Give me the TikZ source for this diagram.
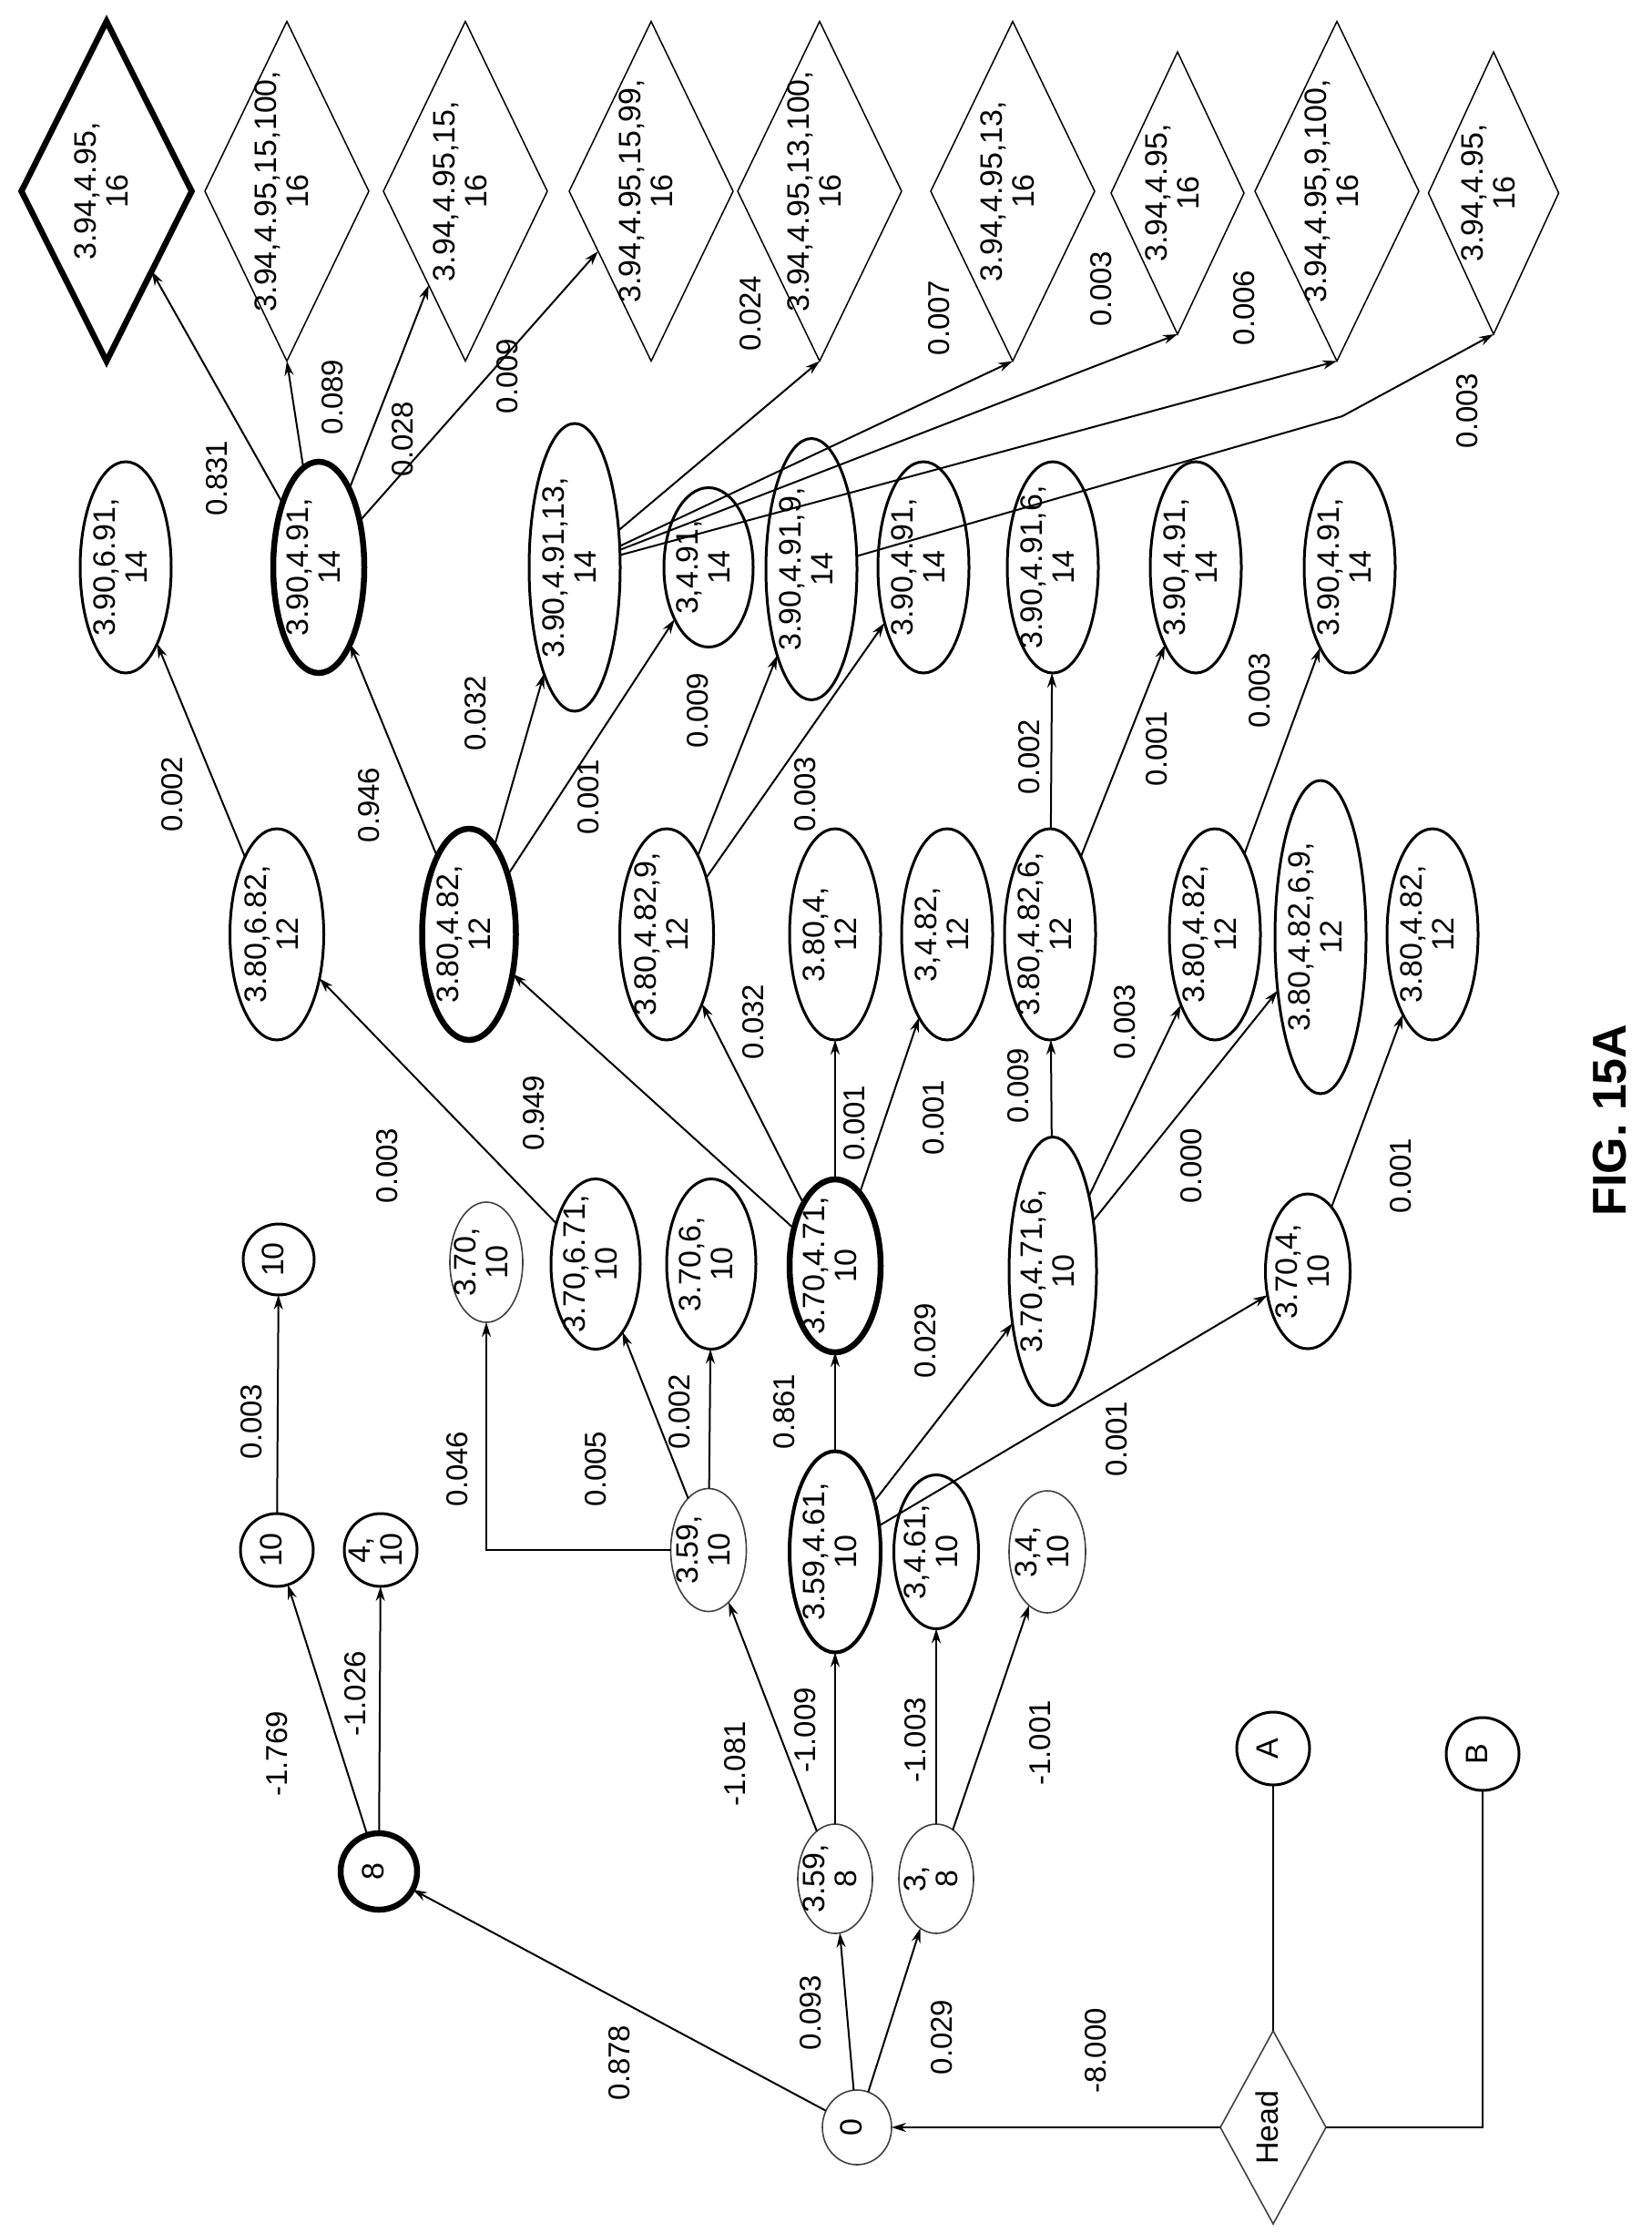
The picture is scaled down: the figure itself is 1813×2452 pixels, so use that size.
\documentclass[tikz,border=0pt]{standalone}
\usepackage{fontspec}
\setmainfont{Liberation Sans}
\usetikzlibrary{shapes.geometric,arrows.meta}
\newcommand{\lbl}[1]{\raisebox{-0.3em}{\smash{\makebox[0pt]{\begin{tabular}{@{}c@{}}#1\end{tabular}}}}}
\begin{document}
\begin{tikzpicture}[x=1pt,y=-1pt,
  base/.style={rotate=90,inner sep=0pt,outer sep=0pt,font=\fontsize{34}{35}\selectfont},
  el/.style 2 args={base,ellipse,draw,line width=3pt,minimum width=#2,minimum height=#1},
  dm/.style 2 args={base,diamond,draw,line width=1.5pt,minimum width=#2,minimum height=#1},
  thk/.style={line width=6.5pt},
  thn/.style={line width=1.6pt,draw=black!75},
  lab/.style={rotate=90,inner sep=0pt,font=\fontsize{33}{35}\selectfont},
  ed/.style={line width=2pt,-{Stealth[length=16pt,width=10pt]}},
  pl/.style={line width=2pt}]
\useasboundingbox (0,0) rectangle (1813,2452);
% row 16
\node[dm={187}{373},thk] (d1) at (117,210) {\lbl{3.94,4.95,\\16}};
\node[dm={180}{373}] (d2) at (315,210) {\lbl{3.94,4.95,15,100,\\16}};
\node[dm={180}{373}] (d3) at (511,210) {\lbl{3.94,4.95,15,\\16}};
\node[dm={180}{373}] (d4) at (715,210) {\lbl{3.94,4.95,15,99,\\16}};
\node[dm={180}{373}] (d5) at (900,210) {\lbl{3.94,4.95,13,100,\\16}};
\node[dm={180}{373}] (d6) at (1112,210) {\lbl{3.94,4.95,13,\\16}};
\node[dm={146}{310}] (d7) at (1293,212) {\lbl{3.94,4.95,\\16}};
\node[dm={180}{373}] (d8) at (1468,210) {\lbl{3.94,4.95,9,100,\\16}};
\node[dm={143}{310}] (d9) at (1640,212) {\lbl{3.94,4.95,\\16}};
% row 14
\node[el={100}{232}] (a1) at (138,623) {\lbl{3.90,6.91,\\14}};
\node[el={100}{232},thk] (a2) at (350,623) {\lbl{3.90,4.91,\\14}};
\node[el={100}{316}] (a3) at (631,623) {\lbl{3.90,4.91,13,\\14}};
\node[el={98}{175}] (a4) at (778,623) {\lbl{3,4.91,\\14}};
\node[el={100}{287}] (a5) at (891,625) {\lbl{3.90,4.91,9,\\14}};
\node[el={100}{232}] (a6) at (1014,623) {\lbl{3.90,4.91,\\14}};
\node[el={100}{232}] (a7) at (1156,623) {\lbl{3.90,4.91,6,\\14}};
\node[el={100}{232}] (a8) at (1313,623) {\lbl{3.90,4.91,\\14}};
\node[el={100}{232}] (a9) at (1482,623) {\lbl{3.90,4.91,\\14}};
% row 12
\node[el={103}{232}] (b1) at (304,1026) {\lbl{3.80,6.82,\\12}};
\node[el={103}{232},thk] (b2) at (515,1026) {\lbl{3.80,4.82,\\12}};
\node[el={103}{232}] (b3) at (732,1026) {\lbl{3.80,4.82,9,\\12}};
\node[el={100}{232}] (b4) at (917,1026) {\lbl{3.80,4,\\12}};
\node[el={100}{232}] (b5) at (1040,1026) {\lbl{3,4.82,\\12}};
\node[el={100}{232}] (b6) at (1153,1026) {\lbl{3.80,4.82,6,\\12}};
\node[el={100}{232}] (b7) at (1334,1026) {\lbl{3.80,4.82,\\12}};
\node[el={100}{344}] (b8) at (1450,1029) {\lbl{3.80,4.82,6,9,\\12}};
\node[el={100}{232}] (b9) at (1573,1026) {\lbl{3.80,4.82,\\12}};
% row 10
\node[el={78}{78}] (c1) at (306,1383) {\lbl{10}};
\node[el={80}{132},thn] (c2) at (534,1386) {\lbl{3.70,\\10}};
\node[el={98}{187}] (c3) at (654,1388) {\lbl{3.70,6.71,\\10}};
\node[el={98}{187}] (c4) at (781,1388) {\lbl{3.70,6,\\10}};
\node[el={100}{190},thk] (c5) at (917,1390) {\lbl{3.70,4.71,\\10}};
\node[el={96}{295}] (c6) at (1156,1396) {\lbl{3.70,4.71,6,\\10}};
\node[el={93}{170}] (c7) at (1436,1396) {\lbl{3.70,4,\\10}};
% row 10b
\node[el={80}{80}] (e1) at (304,1702) {\lbl{10}};
\node[el={80}{80}] (e2) at (418,1702) {\lbl{4,\\10}};
\node[el={83}{135},thn] (e3) at (778,1702) {\lbl{3.59,\\10}};
\node[el={100}{221},line width=4pt] (e4) at (917,1704) {\lbl{3.59,4.61,\\10}};
\node[el={93}{169}] (e5) at (1028,1704) {\lbl{3,4.61,\\10}};
\node[el={84}{134},thn] (e6) at (1150,1704) {\lbl{3,4,\\10}};
% row 8
\node[el={84}{84},thk] (f1) at (416,2055) {\lbl{8}};
\node[el={82}{120},thn] (f2) at (917,2063) {\lbl{3.59,\\8}};
\node[el={82}{120},thn] (f3) at (1028,2063) {\lbl{3,\\8}};
% root
\node[el={76}{82},thn] (r0) at (941,2336) {\lbl{0}};
\node[dm={116}{212},thn] (hd) at (1398,2336) {\lbl{Head}};
\node[el={80}{80}] (nA) at (1398,1920) {\lbl{A}};
\node[el={80}{80}] (nB) at (1628,1926) {\lbl{B}};
\coordinate (kB) at (1628,2336);
\coordinate (k9) at (1474,457);
\coordinate (k2) at (534,1702);
% edges
\draw[ed] (a2) -- (d1); \draw[ed] (a2) -- (d2.west); \draw[ed] (a2) -- (d3); \draw[ed] (a2) -- (d4);
\draw[ed] (a3) -- (d5.west); \draw[ed] (a3) -- (d6.west); \draw[ed] (a3) -- (d7.west); \draw[ed] (a3) -- (d8.west);
\draw[ed] (a5) -- (k9) -- (d9.west);
\draw[ed] (b1) -- (a1); \draw[ed] (b2) -- (a2); \draw[ed] (b2) -- (a3); \draw[ed] (b2) -- (a4);
\draw[ed] (b3) -- (a5); \draw[ed] (b3) -- (a6);
\draw[ed] (b6) -- (a7); \draw[ed] (b6) -- (a8); \draw[ed] (b7) -- (a9);
\draw[ed] (c3) -- (b1);
\draw[ed] (c5) -- (b2); \draw[ed] (c5) -- (b3); \draw[ed] (c5) -- (b4); \draw[ed] (c5) -- (b5);
\draw[ed] (c6) -- (b6); \draw[ed] (c6) -- (b7); \draw[ed] (c6) -- (b8);
\draw[ed] (c7) -- (b9);
\draw[ed] (e1) -- (c1);
\draw[ed] (e3) -- (k2) -- (c2);
\draw[ed] (e3) -- (c3); \draw[ed] (e3) -- (c4);
\draw[ed] (e4) -- (c5); \draw[ed] (e4) -- (c6); \draw[ed] (e4) -- (c7);
\draw[ed] (f1) -- (e1); \draw[ed] (f1) -- (e2);
\draw[ed] (f2) -- (e3); \draw[ed] (f2) -- (e4);
\draw[ed] (f3) -- (e5); \draw[ed] (f3) -- (e6);
\draw[ed] (r0) -- (f1); \draw[ed] (r0) -- (f2); \draw[ed] (r0) -- (f3);
\draw[ed] (hd) -- (r0);
\draw[pl] (hd) -- (nA);
\draw[pl] (hd) -- (kB) -- (nB);
% labels
\foreach \x/\y/\t [count=\i] in {238/525/0.831, 365/436/0.089, 442/482/0.028, 557/413/0.009, 824/344/0.024,
  1031/349/0.007, 1209/317/0.003, 1366/338/0.006, 1611/451/0.003,
  189/872/0.002, 405/884/0.946, 522/783/0.032, 646/875/0.001, 766/780/0.009, 884/872/0.003,
  1130/831/0.002, 1270/822/0.001, 1383/758/0.003,
  425/1280/0.003, 586/1222/0.949, 827/1122/0.032, 938/1233/0.001, 1025/1227/0.001, 1118/1192/0.009,
  1235/1122/0.003, 1308/1280/0.000, 1538/1291/0.001,
  276/1561/0.003, 502/1613/0.046, 654/1613/0.005, 746/1550/0.002, 861/1550/0.861, 1016/1472/0.029, 1226/1580/0.001,
  304/1926/-1.769, 390/1860/-1.026, 807/1937/-1.081, 884/1900/-1.009, 1005/1911/-1.003, 1142/1914/-1.001,
  680/2265/0.878, 890/2210/0.093, 1034/2237/0.029, 1203/2252/-8.000}
  \node[lab] (l\i) at (\x,\y) {\t};
\node[rotate=90,font=\fontsize{52}{56}\bfseries\selectfont] (fig) at (1768,1230) {FIG. 15A};
\end{tikzpicture}
\end{document}
